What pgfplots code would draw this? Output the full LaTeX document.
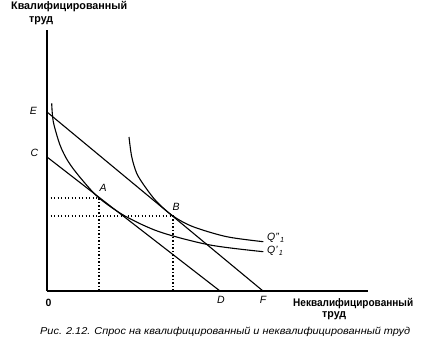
\documentclass[border=0pt]{standalone}
\usepackage{fontspec}
\setmainfont{Liberation Sans}
\usepackage{graphicx}
\usepackage{pgfplots}
\pgfplotsset{compat=1.18}
\begin{document}
\begin{tikzpicture}
\path[use as bounding box] (0pt,0pt) rectangle (433pt,355pt);
\begin{axis}[
  at={(47pt,64pt)}, anchor=south west,
  scale only axis, width=321pt, height=261pt,
  xmin=0, xmax=321, ymin=0, ymax=261,
  axis lines=left, axis line style={-, line width=1.2pt},
  xtick=\empty, ytick=\empty, clip=false]
% budget lines
\addplot[black, line width=1.1pt] coordinates {(0,134) (173,0)};
\addplot[black, line width=1.1pt] coordinates {(0,179) (216,0)};
% isoquant Q'1
\addplot[black, line width=1.1pt, smooth] coordinates {
 (4.7,187.7) (6.3,169.3) (13,146) (21.3,129.3) (34,112.5) (52,93)
 (78,75) (113,59) (163,46) (216.3,39.3)};
% isoquant Q''1
\addplot[black, line width=1.1pt, smooth] coordinates {
 (82,154) (84.7,134.3) (89.7,117.7) (98,104.3) (109.7,89.3) (126,75)
 (146,64.3) (179.7,54.3) (216.3,49.3)};
% dotted guides
\addplot[black, dash pattern=on 1.2pt off 2.3pt, line width=1.2pt] coordinates {(0,93) (52,93) (52,0)};
\addplot[black, dash pattern=on 1.2pt off 2.3pt, line width=1.2pt] coordinates {(0,75) (126,75) (126,0)};
\end{axis}
% axis titles
\node[anchor=base west, inner sep=0] at (11pt,345pt)
  {\resizebox{116pt}{\height}{\fontsize{11}{12}\selectfont\bfseries Квалифицированный}};
\node[anchor=base west, inner sep=0] at (29pt,332pt)
  {\resizebox{24pt}{\height}{\fontsize{11}{12}\selectfont\bfseries труд}};
\node[anchor=base west, inner sep=0] at (293pt,48pt)
  {\resizebox{120pt}{\height}{\fontsize{11}{12}\selectfont\bfseries Неквалифицированный}};
\node[anchor=base west, inner sep=0] at (322pt,37pt)
  {\resizebox{24pt}{\height}{\fontsize{11}{12}\selectfont\bfseries труд}};
% point labels
\begin{scope}[every node/.style={inner sep=0, font=\fontsize{10.5}{12}\selectfont\itshape}]
\node[anchor=base] at (33.5pt,240pt) {E};
\node[anchor=base] at (34.5pt,198pt) {C};
\node[anchor=base] at (103pt,163pt) {A};
\node[anchor=base] at (176pt,144pt) {B};
\node[anchor=base] at (221pt,51pt) {D};
\node[anchor=base] at (263pt,51pt) {F};
\node[anchor=base west] at (267pt,114pt) {Q''\textsubscript{\,1}};
\node[anchor=base west] at (267pt,101pt) {Q'\textsubscript{\,1}};
\end{scope}
\node[anchor=base, inner sep=0, font=\fontsize{10.5}{12}\selectfont\bfseries] at (48.5pt,48pt) {0};
% caption
\node[anchor=base west, inner sep=0] at (40pt,20pt)
  {\resizebox{370pt}{\height}{\fontsize{10}{12}\selectfont\itshape Рис. 2.12. Спрос на квалифицированный и неквалифицированный труд}};
\end{tikzpicture}
\end{document}
